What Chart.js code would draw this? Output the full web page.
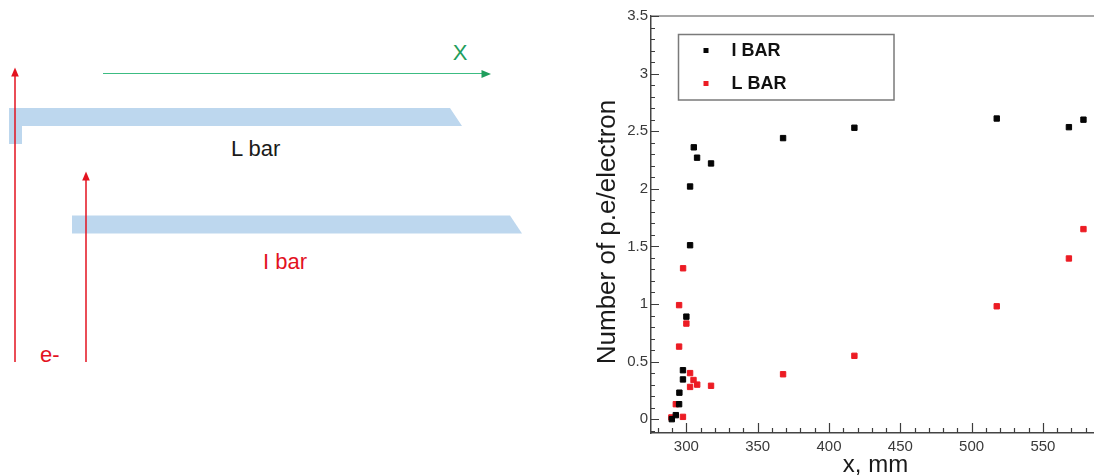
<!DOCTYPE html>
<html>
<head>
<meta charset="utf-8">
<script src="https://cdn.jsdelivr.net/npm/chart.js@4/dist/chart.umd.min.js"></script>
<style>
  html, body { margin: 0; padding: 0; background: #fff; }
  body { width: 1094px; height: 475px; overflow: hidden; position: relative; font-family: "Liberation Sans", Arial, sans-serif; }
  #diagram { position: absolute; left: 0; top: 0; }
  #plotWrap { position: absolute; left: 560px; top: 0; width: 560px; height: 475px; }
</style>
</head>
<body>
<!-- Geometry sketch: two scintillator bars, electron tracks and the x direction -->
<svg id="diagram" width="560" height="475" viewBox="0 0 560 475">
  <polygon points="9,108 450,108 462,126 22,126 22,144 9,144" fill="#bdd7ee"/>
  <polygon points="72,215.5 510,215.5 522,233.5 72,233.5" fill="#bdd7ee"/>
  <line x1="103" y1="73.5" x2="484" y2="73.5" stroke="#3cbc82" stroke-width="1.2"/>
  <polygon points="491,74 481.5,70 481.5,78" fill="#1f9e5c"/>
  <line x1="15" y1="362" x2="15" y2="75" stroke="#e3121f" stroke-width="1.5"/>
  <polygon points="15,67.5 11.2,76.5 18.8,76.5" fill="#e3121f"/>
  <line x1="86" y1="362" x2="86" y2="179" stroke="#e3121f" stroke-width="1.5"/>
  <polygon points="86,171.5 82.2,180.5 89.8,180.5" fill="#e3121f"/>
  <text x="460" y="59.5" font-size="22" fill="#1f9e5c" text-anchor="middle" font-family="Liberation Sans, Arial, sans-serif">X</text>
  <text x="231" y="156" font-size="22" fill="#1a1a1a" font-family="Liberation Sans, Arial, sans-serif">L bar</text>
  <text x="263" y="268.5" font-size="22" fill="#e3121f" font-family="Liberation Sans, Arial, sans-serif">I bar</text>
  <text x="40" y="362" font-size="22" fill="#e3121f" font-family="Liberation Sans, Arial, sans-serif">e-</text>
</svg>

<div id="plotWrap"><canvas id="plot" width="560" height="475"></canvas></div>

<script>
// Photoelectrons per electron vs. hit position x (mm)
const seriesNames = ["I BAR", "L BAR"];

const iBarX = [289.8, 292.6, 294.9, 295.1, 297.6, 297.6, 300.0, 302.6, 302.6, 305.2, 307.5, 317.3, 367.8, 417.8, 517.6, 568.2, 578.4];
const iBarY = [0.00, 0.035, 0.13, 0.23, 0.345, 0.425, 0.89, 1.51, 2.02, 2.36, 2.27, 2.22, 2.44, 2.53, 2.61, 2.535, 2.60];

const lBarX = [289.5, 292.6, 297.6, 294.9, 294.9, 297.7, 300.0, 302.6, 302.6, 305.0, 307.6, 317.3, 367.8, 417.8, 517.6, 568.2, 578.4];
const lBarY = [0.015, 0.13, 0.02, 0.63, 0.99, 1.31, 0.83, 0.40, 0.28, 0.34, 0.30, 0.29, 0.39, 0.55, 0.98, 1.395, 1.65];

const xTickValues = [300, 350, 400, 450, 500, 550];
const xTickLabels = ["300", "350", "400", "450", "500", "550"];
const yTickValues = [0, 0.5, 1, 1.5, 2, 2.5, 3, 3.5];
const yTickLabels = ["0", "0.5", "1", "1.5", "2", "2.5", "3", "3.5"];

const xRange = [275.2, 590];
const yRange = [-0.12, 3.5];

const FONT = '"Liberation Sans", Arial, Helvetica, sans-serif';

function toPoints(xs, ys) { return xs.map((x, i) => ({ x: x, y: ys[i] })); }

// ROOT-style frame: top frame line, inward major/minor tick marks, y-axis title
const frameTicks = {
  id: 'frameTicks',
  afterDraw(chart) {
    const ctx = chart.ctx;
    const a = chart.chartArea;
    const xs = chart.scales.x;
    const ys = chart.scales.y;
    ctx.save();
    ctx.strokeStyle = '#8a8a8a';
    ctx.lineWidth = 1.5;
    ctx.beginPath();
    ctx.moveTo(a.left, a.top);
    ctx.lineTo(a.right, a.top);
    ctx.stroke();

    ctx.strokeStyle = '#3c3c3c';
    ctx.lineWidth = 1.2;
    ctx.beginPath();
    for (let k = 28; k * 10 <= xRange[1]; k++) {
      const v = k * 10;
      const px = Math.round(xs.getPixelForValue(v)) + 0.5;
      const len = (k % 5 === 0) ? 10 : 5;
      ctx.moveTo(px, a.bottom);
      ctx.lineTo(px, a.bottom - len);
    }
    for (let k = -1; k <= 35; k++) {
      const py = Math.round(ys.getPixelForValue(k / 10)) + 0.5;
      const len = (k % 5 === 0) ? 8 : 4;
      ctx.moveTo(a.left, py);
      ctx.lineTo(a.left + len, py);
    }
    ctx.stroke();

    // y-axis title, rotated
    ctx.translate(48, 232);
    ctx.rotate(-Math.PI / 2);
    ctx.fillStyle = '#1a1a1a';
    ctx.font = '26px ' + FONT;
    ctx.textAlign = 'center';
    ctx.textBaseline = 'middle';
    ctx.fillText('Number of p.e/electron', 0, 0);
    ctx.restore();
  }
};

// Boxed legend inside the plot area, drawn from the dataset labels/colours
const boxedLegend = {
  id: 'boxedLegend',
  afterDatasetsDraw(chart) {
    const ctx = chart.ctx;
    const bx = 118.5, by = 34.5, bw = 215.5, bh = 65.5;
    ctx.save();
    ctx.fillStyle = '#fff';
    ctx.fillRect(bx, by, bw, bh);
    ctx.strokeStyle = '#7a7a7a';
    ctx.lineWidth = 1.5;
    ctx.strokeRect(bx, by, bw, bh);
    const rows = [50.5, 83.5];
    chart.data.datasets.forEach((ds, i) => {
      const cy = rows[i];
      ctx.fillStyle = ds.backgroundColor;
      ctx.fillRect(143.5, cy - 2.5, 5, 5);
      ctx.fillStyle = '#111';
      ctx.font = 'bold 18px ' + FONT;
      ctx.textAlign = 'left';
      ctx.textBaseline = 'middle';
      ctx.fillText(ds.label, 171.5, cy + 0.5);
    });
    ctx.restore();
  }
};

const markerStyle = { pointStyle: 'rect', pointRadius: 3.8, pointHoverRadius: 3.8, pointBorderWidth: 1, showLine: false };

new Chart(document.getElementById('plot'), {
  type: 'scatter',
  data: {
    datasets: [
      Object.assign({ label: seriesNames[0], data: toPoints(iBarX, iBarY), backgroundColor: '#050505', borderColor: '#050505' }, markerStyle),
      Object.assign({ label: seriesNames[1], data: toPoints(lBarX, lBarY), backgroundColor: '#ec1c24', borderColor: '#ec1c24' }, markerStyle)
    ]
  },
  options: {
    responsive: false,
    animation: false,
    devicePixelRatio: 1,
    layout: { padding: { top: 16, right: 20, bottom: 0, left: 0 } },
    plugins: { legend: { display: false }, tooltip: { enabled: false } },
    scales: {
      x: {
        type: 'linear',
        min: xRange[0],
        max: xRange[1],
        afterFit(s) { s.height = 42; },
        afterBuildTicks(s) { s.ticks = xTickValues.map(v => ({ value: v })); },
        grid: { display: false, drawTicks: false },
        border: { display: true, color: '#444', width: 1.5 },
        ticks: {
          color: '#3a3a3a', font: { family: FONT, size: 15 }, padding: 5, maxRotation: 0, autoSkip: false,
          callback: (v) => xTickLabels[xTickValues.indexOf(v)]
        },
        title: { display: true, text: 'x, mm', color: '#1a1a1a', font: { family: FONT, size: 24, lineHeight: 1 }, padding: { top: 0, bottom: -2 } }
      },
      y: {
        type: 'linear',
        min: yRange[0],
        max: yRange[1],
        afterFit(s) { s.width = 91; },
        afterBuildTicks(s) { s.ticks = yTickValues.map(v => ({ value: v })); },
        grid: { display: false, drawTicks: false },
        border: { display: true, color: '#444', width: 1.5 },
        ticks: {
          color: '#3a3a3a', font: { family: FONT, size: 15 }, padding: 3, autoSkip: false,
          callback: (v) => yTickLabels[yTickValues.indexOf(v)]
        }
      }
    }
  },
  plugins: [frameTicks, boxedLegend]
});
</script>
</body>
</html>
